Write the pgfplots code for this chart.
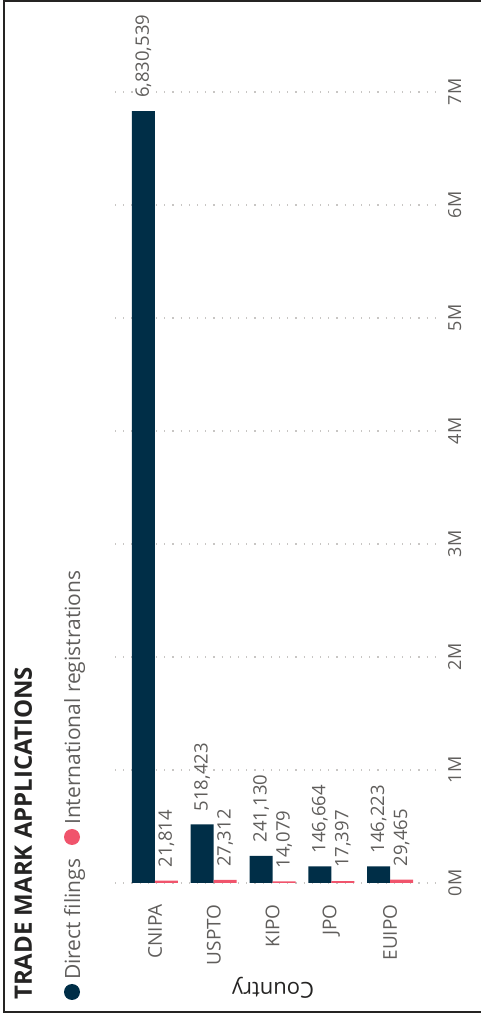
\documentclass[border=0pt]{standalone}
\usepackage{fontspec}
\setmainfont{Open Sans}
\usepackage{pgfplots}
\usepackage{pgfplotstable}
\pgfplotsset{compat=1.18}

\definecolor{navy}{RGB}{0,46,71}
\definecolor{rose}{RGB}{240,84,108}
\definecolor{lbl}{RGB}{96,94,92}
\definecolor{ttl}{RGB}{37,36,35}
\definecolor{gridc}{RGB}{200,198,196}

% values per office
\pgfplotstableread{
x y label
0 6830539 6,830,539
1 518423 518,423
2 241130 241,130
3 146664 146,664
4 146223 146,223
}\direct
\pgfplotstableread{
x y label
0 21814 21,814
1 27312 27,312
2 14079 14,079
3 17397 17,397
4 29465 29,465
}\intl

\begin{document}
\begin{tikzpicture}[x=1pt,y=1pt]
\path[use as bounding box] (0,0) rectangle (481,1017);
% frame
\draw[line width=1.5pt, ttl] (481,1016.2) -- (4,1016.2) -- (4,5) -- (481,5);

\begin{axis}[
  at={(115pt,134pt)}, anchor=south west,
  scale only axis, width=325pt, height=791pt,
  xmin=-0.68, xmax=4.85, ymin=0, ymax=7000000,
  ybar=0pt, bar width=23pt,
  axis line style={draw=none}, tick style={draw=none},
  xtick={0,1,2,3,4},
  xticklabels={CNIPA,USPTO,KIPO,JPO,EUIPO},
  xticklabel style={yshift=-17pt, rotate=90, anchor=east, inner sep=0pt,
    font=\fontsize{19}{22}\selectfont, text=lbl},
  scaled y ticks=false,
  ytick={0,1000000,2000000,3000000,4000000,5000000,6000000,7000000},
  yticklabels={0M,1M,2M,3M,4M,5M,6M,7M},
  yticklabel pos=right,
  yticklabel style={xshift=8pt, rotate=90, anchor=north, inner sep=0pt,
    font=\fontsize{18}{21}\selectfont, text=lbl},
  ymajorgrids,
  grid style={gridc, line width=1.2pt, dash pattern=on 1.2pt off 7pt},
  clip=false,
  nodes near coords={\pgfplotspointmeta},
  point meta=explicit symbolic,
  every node near coord/.append style={yshift=13pt, rotate=90, anchor=west,
    inner sep=0pt, font=\fontsize{18.5}{21}\selectfont, text=lbl},
]
\addplot[fill=navy, draw=none] table[x=x, y=y, meta=label] {\direct};
\addplot[fill=rose, draw=none] table[x=x, y=y, meta=label] {\intl};
\end{axis}

% title
\node[rotate=90, anchor=base west, inner sep=0pt, text=ttl,
  font=\fontsize{24}{28}\selectfont\bfseries] at (32,17) {TRADE MARK APPLICATIONS};
% legend
\fill[navy] (72,25) circle (8);
\node[rotate=90, anchor=base west, inner sep=0pt, text=lbl,
  font=\fontsize{21}{24}\selectfont] at (80,37) {Direct filings};
\fill[rose] (72,180) circle (8);
\node[rotate=90, anchor=base west, inner sep=0pt, text=lbl,
  font=\fontsize{21}{24}\selectfont] at (80,192) {International registrations};
% axis title
\node[rotate=180, inner sep=0pt, text=ttl,
  font=\fontsize{22}{26}\selectfont] at (273,29) {Country};
\end{tikzpicture}
\end{document}
